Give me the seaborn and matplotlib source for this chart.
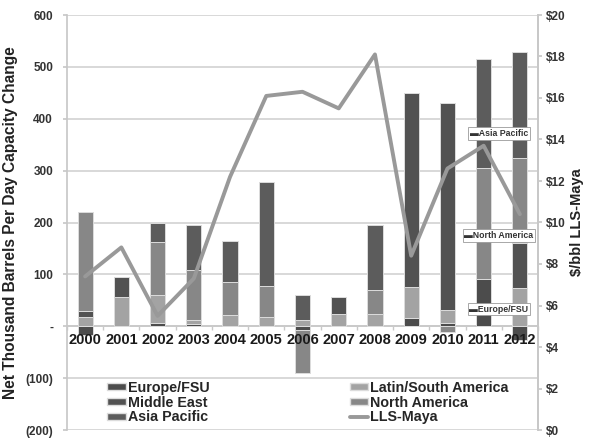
import numpy as np
import matplotlib
matplotlib.use("Agg")
import matplotlib.pyplot as plt
import seaborn as sns
from matplotlib.lines import Line2D
from matplotlib.patches import Patch
from matplotlib.ticker import FuncFormatter, FixedLocator

years = ["2000", "2001", "2002", "2003", "2004", "2005", "2006",
         "2007", "2008", "2009", "2010", "2011", "2012"]
europe_fsu = [-17, 0, 6, 5, 0, 0, -8, 0, 0, 15, 6, 92, -27]
latin_south_america = [18, 56, 54, 7, 21, 17, 13, 23, 23, 60, 25, 0, 73]
middle_east = [12, 38, 0, 0, 0, 0, 0, 33, 0, 374, 399, 0, 87]
north_america = [190, 0, 102, 96, 64, 60, -82, 0, 46, 0, -12, 214, 164]
asia_pacific = [0, 0, 37, 87, 80, 201, 47, 0, 127, 0, 0, 210, 204]
lls_maya = [7.4, 8.8, 5.5, 7.3, 12.2, 16.1, 16.3, 15.5, 18.1, 8.4, 12.6, 13.7, 10.4]

series_names = ["Europe/FSU", "Latin/South America", "Middle East",
                "North America", "Asia Pacific"]
series_vals = [europe_fsu, latin_south_america, middle_east, north_america, asia_pacific]
series_colors = ["#4c4c4c", "#a3a3a3", "#525252", "#878787", "#5c5c5c"]
line_color = "#999999"

sns.set_theme(style="white")
plt.rcParams['font.family'] = ['Liberation Sans', 'DejaVu Sans']
plt.rcParams['font.weight'] = 'bold'

fig = plt.figure(figsize=(5.9, 4.4), dpi=100)
ax = fig.add_axes([67/590, 1-430/440, 471/590, 415/440])

pos_bottom = np.zeros(len(years))
neg_bottom = np.zeros(len(years))
for name, vals, col in zip(series_names, series_vals, series_colors):
    v = np.array(vals, dtype=float)
    bottom = np.where(v >= 0, pos_bottom, neg_bottom)
    sns.barplot(x=years, y=v, bottom=bottom, order=years, color=col,
                width=0.42, edgecolor="#dcdcdc", linewidth=0.7, ax=ax,
                saturation=1, zorder=3)
    pos_bottom += np.where(v >= 0, v, 0)
    neg_bottom += np.where(v < 0, v, 0)

ax.set_ylim(-200, 600)
ax.set_xlim(-0.5, len(years) - 0.5)
ax.yaxis.set_major_locator(FixedLocator(np.arange(-200, 601, 100)))

def lfmt(v, p):
    v = int(round(v))
    if v == 0:
        return "-"
    if v < 0:
        return f"({-v})"
    return f"{v}"
ax.yaxis.set_major_formatter(FuncFormatter(lfmt))
ax.grid(axis="y", color="#d6d6d6", linewidth=1.3, zorder=0)
ax.set_axisbelow(True)

ax.spines["top"].set_visible(False)
ax.spines["left"].set_color("#c8c8c8")
ax.spines["right"].set_color("#c8c8c8")
ax.spines["bottom"].set_position(("data", 0))
ax.spines["bottom"].set_color("#c8c8c8")
ax.spines["bottom"].set_linewidth(1.2)

ax.tick_params(axis="y", which="major", left=True, length=3, color="#c8c8c8",
               labelsize=8.5, labelcolor="#333333", pad=7)
ax.set_xticks(range(len(years)))
ax.set_xticklabels([])
ax.tick_params(axis="x", which="major", length=0)
ax.set_xticks(np.arange(-0.5, len(years), 1), minor=True)
ax.tick_params(axis="x", which="minor", length=3, color="#c8c8c8", bottom=True)
for i, yr in enumerate(years):
    ax.annotate(yr, (i, 0), xytext=(0, -5), textcoords="offset points",
                ha="center", va="top", fontsize=10.5, fontweight="bold",
                color="#1a1a1a", zorder=10)
ax.set_xlabel("")
ax.set_ylabel("Net Thousand Barrels Per Day Capacity Change", fontsize=11.2,
              fontweight="bold", color="#222222", labelpad=5)

ax2 = ax.twinx()
sns.lineplot(x=np.arange(len(years)), y=lls_maya, ax=ax2, color=line_color,
             linewidth=2.8, zorder=5)
ax2.set_ylim(0, 20)
ax2.set_xlim(-0.5, len(years) - 0.5)
ax2.yaxis.set_major_locator(FixedLocator(np.arange(0, 21, 2)))
ax2.yaxis.set_major_formatter(FuncFormatter(lambda v, p: f"${int(round(v))}"))
ax2.tick_params(axis="y", right=True, length=3, color="#c8c8c8", labelsize=8.5,
                labelcolor="#333333", pad=3)
for s in ["top", "left", "bottom"]:
    ax2.spines[s].set_visible(False)
ax2.spines["right"].set_color("#c8c8c8")
ax2.set_ylabel("$/bbl LLS-Maya", fontsize=10.5, fontweight="bold", color="#222222",
               labelpad=3)
ax2.grid(False)

# series name tags
for txt, yv in [("Asia Pacific", 372), ("North America", 175), ("Europe/FSU", 33)]:
    ax.text(11.42, yv, "\u25ac" + txt, fontsize=6.3, color="#333333", ha="center",
            va="center", zorder=6,
            bbox=dict(boxstyle="square,pad=0.2", facecolor="white",
                      edgecolor="#9a9a9a", linewidth=0.6))

handles = [Patch(facecolor=series_colors[0], edgecolor="#dcdcdc"),
           Patch(facecolor=series_colors[2], edgecolor="#dcdcdc"),
           Patch(facecolor=series_colors[4], edgecolor="#dcdcdc"),
           Patch(facecolor=series_colors[1], edgecolor="#dcdcdc"),
           Patch(facecolor=series_colors[3], edgecolor="#dcdcdc"),
           Line2D([0], [0], color=line_color, linewidth=2.8)]
labels = ["Europe/FSU", "Middle East", "Asia Pacific",
          "Latin/South America", "North America", "LLS-Maya"]
fig.legend(handles, labels, loc="upper left", bbox_to_anchor=(107/590, 1-381/440),
           ncol=2, frameon=False, handlelength=1.3, handleheight=0.4,
           handletextpad=0.15, labelspacing=0.05, columnspacing=9.8, borderpad=0,
           borderaxespad=0, prop={"weight": "bold", "size": 10.3})

fig.savefig("out.png", dpi=100, facecolor="white")
